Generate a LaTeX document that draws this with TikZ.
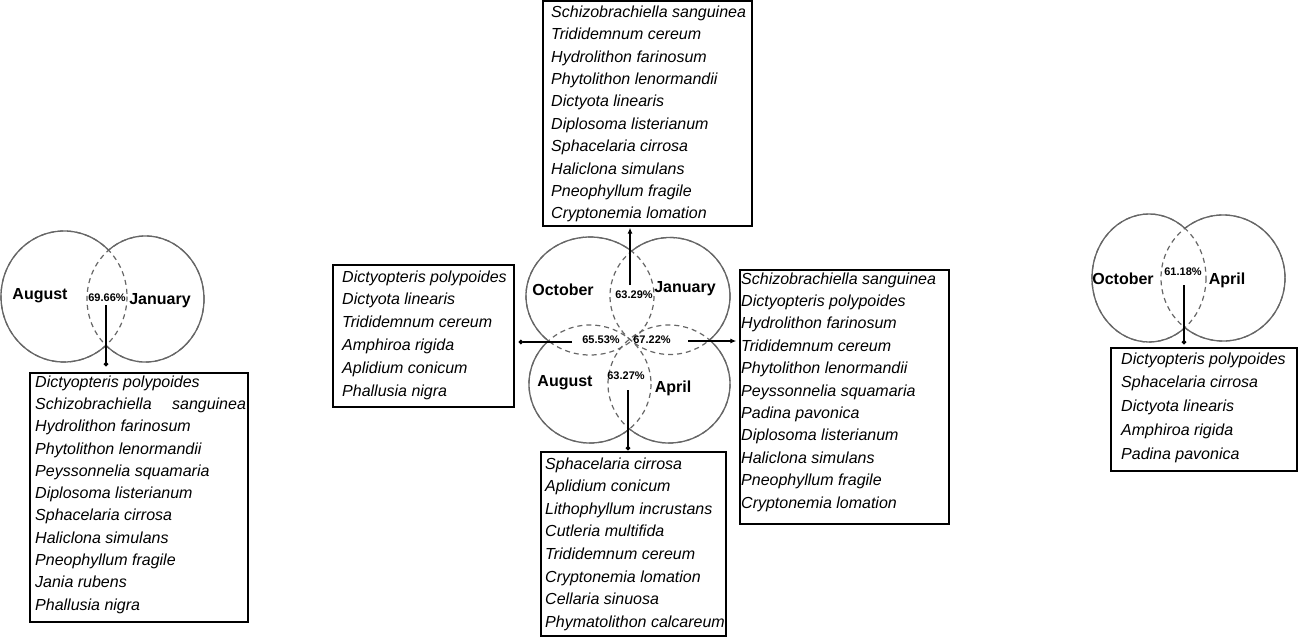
\documentclass[tikz,border=0pt]{standalone}
\usepackage{fontspec}
\setmainfont{Liberation Sans}
\usetikzlibrary{arrows.meta, positioning}

\tikzset{
  vennline/.style={draw=black!60, line width=1.3pt},
  venndash/.style={draw=black!60, line width=1.2pt, dash pattern=on 5pt off 4pt},
  month/.style={font=\fontsize{16}{18}\selectfont\bfseries, inner sep=0pt},
  share/.style={font=\fontsize{11}{13}\selectfont\bfseries, inner sep=0pt},
  listbox/.style={draw=black, line width=1.3pt, inner sep=0pt},
  listtext/.style={font=\fontsize{16}{#1}\selectfont\itshape, align=left, inner sep=0pt, anchor=west},
  listtext/.default=22.4,
  linkdot/.style={line width=1.3pt, -{Circle[length=4.5pt]}},
  linkarrow/.style={line width=1.3pt, -{Latex[length=6pt,width=5pt]}}
}
% everything outside one circle
\newcommand{\vennhole}[4]{\clip (-2000,-2000) -- (-2000,2000) -- (2000,2000) -- (2000,-2000) -- cycle (#1,#2) ellipse [x radius=#3, y radius=#4];}

\begin{document}
\begin{tikzpicture}[x=1pt, y=-1pt]
\useasboundingbox (0,0) rectangle (1298,638);

% left venn: August / January
\draw[venndash] (64,296.5) ellipse [x radius=63, y radius=65.5];
\draw[venndash] (145.5,299) ellipse [x radius=58.5, y radius=63];
\begin{scope}
  \vennhole{145.5}{299}{58.5}{63}
  \draw[vennline] (64,296.5) ellipse [x radius=63, y radius=65.5];
\end{scope}
\begin{scope}
  \vennhole{64}{296.5}{63}{65.5}
  \draw[vennline] (145.5,299) ellipse [x radius=58.5, y radius=63];
\end{scope}
\node[month] (augL) at (40,296) {August};
\node[share] (augjan) at (107,298) {69.66\%};
\node[month] (janL) at (160,301) {January};
\coordinate (lvlink) at (106,305);

\node[listbox, minimum width=218pt, minimum height=249pt] (leftbox) at (139,497.5) {};
\node[listtext=22.3] (leftlist) at (35,494.5) {Dictyopteris polypoides\\
Schizobrachiella\hspace{16pt} sanguinea\\
Hydrolithon farinosum\\
Phytolithon lenormandii\\
Peyssonnelia squamaria\\
Diplosoma listerianum\\
Sphacelaria cirrosa\\
Haliclona simulans\\
Pneophyllum fragile\\
Jania rubens\\
Phallusia nigra};
\draw[linkdot, shorten >=6pt] (lvlink) -- (lvlink |- leftbox.north);

% central venn: October / January / August / April
\draw[venndash] (590,296) ellipse [x radius=64, y radius=59];
\draw[venndash] (670,296) ellipse [x radius=60, y radius=58.5];
\draw[venndash] (590,384) ellipse [x radius=61, y radius=59];
\draw[venndash] (669,384) ellipse [x radius=61, y radius=59];
\begin{scope}
  \vennhole{670}{296}{60}{58.5}
  \vennhole{590}{384}{61}{59}
  \vennhole{669}{384}{61}{59}
  \draw[vennline] (590,296) ellipse [x radius=64, y radius=59];
\end{scope}
\begin{scope}
  \vennhole{590}{296}{64}{59}
  \vennhole{590}{384}{61}{59}
  \vennhole{669}{384}{61}{59}
  \draw[vennline] (670,296) ellipse [x radius=60, y radius=58.5];
\end{scope}
\begin{scope}
  \vennhole{590}{296}{64}{59}
  \vennhole{670}{296}{60}{58.5}
  \vennhole{669}{384}{61}{59}
  \draw[vennline] (590,384) ellipse [x radius=61, y radius=59];
\end{scope}
\begin{scope}
  \vennhole{590}{296}{64}{59}
  \vennhole{670}{296}{60}{58.5}
  \vennhole{590}{384}{61}{59}
  \draw[vennline] (669,384) ellipse [x radius=61, y radius=59];
\end{scope}
\node[month] (octC) at (563,290) {October};
\node[share] (octjan) at (634,295) {63.29\%};
\node[month] (janC) at (685,289) {January};
\node[share] (octaug) at (601,340) {65.53\%};
\node[share] (janapr) at (652,340) {67.22\%};
\node[month] (augC) at (565,383) {August};
\node[share] (augapr) at (626,376) {63.27\%};
\node[month] (aprC) at (673,388) {April};
\coordinate (cvup) at (630,285);
\coordinate (cvleft) at (572,342);
\coordinate (cvright) at (688,341);
\coordinate (cvdown) at (628,390);

\node[listbox, minimum width=209pt, minimum height=225pt] (topbox) at (647.5,113.5) {};
\node[listtext] (toplist) at (551,114) {Schizobrachiella sanguinea\\
Trididemnum cereum\\
Hydrolithon farinosum\\
Phytolithon lenormandii\\
Dictyota linearis\\
Diplosoma listerianum\\
Sphacelaria cirrosa\\
Haliclona simulans\\
Pneophyllum fragile\\
Cryptonemia lomation};

\node[listbox, minimum width=181pt, minimum height=142pt] (midleftbox) at (423.5,336) {};
\node[listtext=22.8] (midleftlist) at (342,335) {Dictyopteris polypoides\\
Dictyota linearis\\
Trididemnum cereum\\
Amphiroa rigida\\
Aplidium conicum\\
Phallusia nigra};

\node[listbox, minimum width=209pt, minimum height=254pt] (rightbox) at (844.5,397) {};
\node[listtext] (rightlist) at (741,392) {Schizobrachiella sanguinea\\
Dictyopteris polypoides\\
Hydrolithon farinosum\\
Trididemnum cereum\\
Phytolithon lenormandii\\
Peyssonnelia squamaria\\
Padina pavonica\\
Diplosoma listerianum\\
Haliclona simulans\\
Pneophyllum fragile\\
Cryptonemia lomation};

\node[listbox, minimum width=185pt, minimum height=184pt] (bottombox) at (633.5,544) {};
\node[listtext=22.6] (bottomlist) at (545,544) {Sphacelaria cirrosa\\
Aplidium conicum\\
Lithophyllum incrustans\\
Cutleria multifida\\
Trididemnum cereum\\
Cryptonemia lomation\\
Cellaria sinuosa\\
Phymatolithon calcareum};

\draw[linkarrow, shorten >=1pt] (cvup) -- (cvup |- topbox.south);
\draw[linkdot, shorten >=4pt] (cvleft) -- (cvleft -| midleftbox.east);
\draw[linkarrow, shorten >=3pt] (cvright) -- (cvright -| rightbox.west);
\draw[linkdot, shorten >=1pt] (cvdown) -- (cvdown |- bottombox.north);

% right venn: October / April
\draw[venndash] (1149,278) ellipse [x radius=57, y radius=64];
\draw[venndash] (1223,278) ellipse [x radius=62, y radius=63];
\begin{scope}
  \vennhole{1223}{278}{62}{63}
  \draw[vennline] (1149,278) ellipse [x radius=57, y radius=64];
\end{scope}
\begin{scope}
  \vennhole{1149}{278}{57}{64}
  \draw[vennline] (1223,278) ellipse [x radius=62, y radius=63];
\end{scope}
\node[month] (octR) at (1123,279) {October};
\node[share] (octapr) at (1183,272) {61.18\%};
\node[month] (aprR) at (1227,280) {April};
\coordinate (rvlink) at (1184,285);

\node[listbox, minimum width=186pt, minimum height=123pt] (farbox) at (1204,409.5) {};
\node[listtext=23.7] (farlist) at (1121,407.5) {Dictyopteris polypoides\\
Sphacelaria cirrosa\\
Dictyota linearis\\
Amphiroa rigida\\
Padina pavonica};
\draw[linkdot, shorten >=3pt] (rvlink) -- (rvlink |- farbox.north);
\end{tikzpicture}
\end{document}
